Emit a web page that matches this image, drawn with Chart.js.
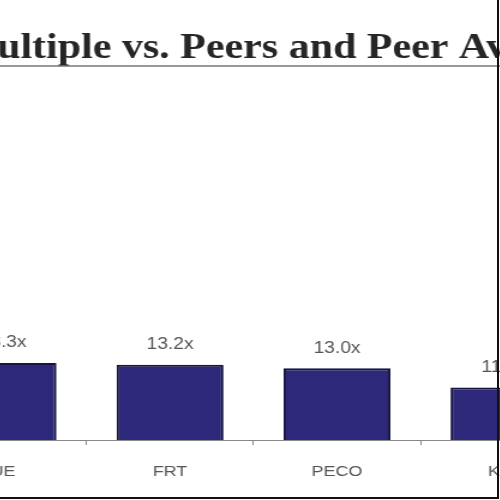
<!DOCTYPE html>
<html>
<head>
<meta charset="utf-8">
<script src="https://cdn.jsdelivr.net/npm/chart.js@4/dist/chart.umd.min.js"></script>
<style>
  html, body { margin: 0; padding: 0; background: #fff; overflow: hidden; }
  #wrap { position: relative; width: 500px; height: 500px; overflow: hidden; background: #fff; }
  #c { position: absolute; left: -200px; top: 0; transform: scaleX(1.2); transform-origin: 0 0; }
  #frame { position: absolute; left: 0; top: 0; width: 497px; height: 497px;
           border-right: 2px solid #111; border-bottom: 2px solid #111; pointer-events: none; }
</style>
</head>
<body>
<div id="wrap">
  <canvas id="c" width="800" height="500"></canvas>
  <div id="frame"></div>
</div>
<script>
const titleText = "FFO Multiple vs. Peers and Peer Average";
const titlePrefix = "FFO M";
const categories = ["UE", "FRT", "PECO", "KIM"];
const multiples = [13.3, 13.2, 13.0, 11.9];
const valueLabels = ["13.3x", "13.2x", "13.0x", "11.9x"];

const SCALE_X = 1.2, OFFSET = 200;

const titlePlugin = {
  id: 'serifTitle',
  afterDraw(chart) {
    const ctx = chart.ctx;
    ctx.save();
    ctx.font = 'bold 35px "Liberation Serif", "Times New Roman", serif';
    ctx.fillStyle = '#262626';
    ctx.textBaseline = 'alphabetic';
    ctx.textAlign = 'left';
    const pre = ctx.measureText(titlePrefix).width;
    const full = ctx.measureText(titleText).width;
    const tx = (OFFSET - 3) / SCALE_X - pre;
    ctx.fillText(titleText, tx, 58);
    ctx.strokeStyle = '#777';
    ctx.lineWidth = 1.5;
    ctx.beginPath();
    ctx.moveTo(tx, 66);
    ctx.lineTo(tx + full, 66);
    ctx.stroke();
    ctx.restore();
  }
};

const valueLabelPlugin = {
  id: 'valueLabels',
  afterDatasetsDraw(chart) {
    const ctx = chart.ctx;
    const meta = chart.getDatasetMeta(0);
    ctx.save();
    ctx.font = '16px "Liberation Sans", Arial, sans-serif';
    ctx.fillStyle = '#555';
    ctx.textAlign = 'center';
    ctx.textBaseline = 'middle';
    meta.data.forEach((bar, i) => {
      ctx.fillText(valueLabels[i], bar.x, bar.y - 20);
    });
    ctx.restore();
  }
};

new Chart(document.getElementById('c'), {
  type: 'bar',
  data: {
    labels: categories,
    datasets: [{
      data: multiples,
      backgroundColor: '#2d2879',
      borderColor: '#17143f',
      borderWidth: 2,
      borderSkipped: false,
      barPercentage: 0.64,
      categoryPercentage: 1.0
    }]
  },
  options: {
    responsive: false,
    animation: false,
    devicePixelRatio: 1,
    layout: { padding: { left: 99.58, right: 143.75, top: 100, bottom: 1 } },
    plugins: { legend: { display: false }, title: { display: false }, tooltip: { enabled: false } },
    scales: {
      y: { display: false, min: 8.9, max: 28.3 },
      x: {
        offset: true,
        grid: { offset: true, drawOnChartArea: false, drawTicks: true, tickLength: 5, color: '#888' },
        border: { display: true, color: '#888', width: 1 },
        ticks: { color: '#555', padding: 18, font: { family: '"Liberation Sans", Arial, sans-serif', size: 15 } }
      }
    }
  },
  plugins: [titlePlugin, valueLabelPlugin]
});
</script>
</body>
</html>
